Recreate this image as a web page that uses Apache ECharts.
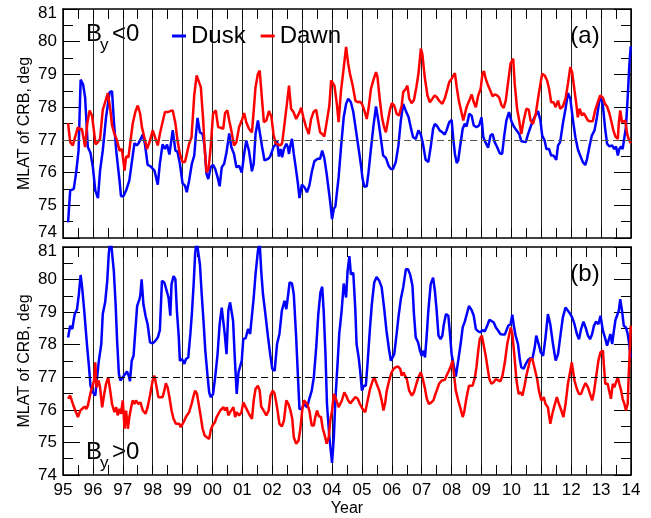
<!DOCTYPE html>
<html>
<head>
<meta charset="utf-8">
<script src="https://cdn.jsdelivr.net/npm/echarts@6/dist/echarts.min.js"></script>
<style>
  html, body { margin: 0; padding: 0; background: #ffffff; }
  #chart { width: 651px; height: 518px; }
</style>
</head>
<body>
<div id="chart"></div>
<script>
// Cusp region boundary latitude (MLAT of CRB) for IMF By<0 (panel a) and By>0 (panel b)

const duskAYears = [1995.17,1995.24,1995.36,1995.44,1995.52,1995.59,1995.67,1995.74,1995.83,1995.92,1996.0,1996.08,1996.17,1996.24,1996.33,1996.44,1996.56,1996.64,1996.7,1996.78,1996.89,1996.94,1997.02,1997.11,1997.22,1997.31,1997.39,1997.47,1997.53,1997.59,1997.67,1997.74,1997.83,1997.94,1998.06,1998.17,1998.24,1998.33,1998.41,1998.48,1998.56,1998.67,1998.76,1998.83,1998.91,1999.0,1999.08,1999.14,1999.22,1999.31,1999.39,1999.44,1999.5,1999.58,1999.67,1999.74,1999.8,1999.86,1999.94,2000.02,2000.09,2000.17,2000.24,2000.31,2000.39,2000.47,2000.56,2000.63,2000.72,2000.8,2000.89,2000.98,2001.06,2001.13,2001.22,2001.32,2001.38,2001.44,2001.52,2001.58,2001.66,2001.74,2001.86,2001.93,2002.0,2002.04,2002.11,2002.16,2002.22,2002.28,2002.33,2002.39,2002.47,2002.52,2002.56,2002.6,2002.66,2002.72,2002.8,2002.86,2002.91,2002.99,2003.08,2003.16,2003.24,2003.32,2003.41,2003.52,2003.6,2003.67,2003.74,2003.82,2003.89,2003.94,2004.0,2004.06,2004.11,2004.17,2004.22,2004.3,2004.39,2004.47,2004.54,2004.63,2004.71,2004.8,2004.89,2004.97,2005.02,2005.08,2005.16,2005.22,2005.3,2005.38,2005.47,2005.54,2005.63,2005.71,2005.8,2005.89,2005.97,2006.04,2006.13,2006.22,2006.3,2006.38,2006.43,2006.47,2006.56,2006.63,2006.71,2006.8,2006.89,2006.97,2007.04,2007.13,2007.22,2007.3,2007.38,2007.44,2007.52,2007.6,2007.69,2007.77,2007.83,2007.92,2008.0,2008.06,2008.11,2008.17,2008.22,2008.28,2008.37,2008.44,2008.5,2008.59,2008.67,2008.74,2008.83,2008.92,2009.0,2009.06,2009.13,2009.22,2009.3,2009.37,2009.44,2009.52,2009.61,2009.69,2009.76,2009.83,2009.92,2010.0,2010.08,2010.17,2010.26,2010.33,2010.39,2010.48,2010.56,2010.63,2010.72,2010.8,2010.89,2010.97,2011.03,2011.11,2011.17,2011.26,2011.33,2011.41,2011.5,2011.56,2011.63,2011.72,2011.81,2011.89,2011.97,2012.06,2012.14,2012.22,2012.3,2012.39,2012.47,2012.53,2012.61,2012.69,2012.78,2012.86,2012.94,2013.0,2013.06,2013.13,2013.2,2013.28,2013.37,2013.44,2013.5,2013.56,2013.61,2013.67,2013.72,2013.78,2013.83,2013.89,2013.94,2013.99];
const duskAValues = [74.48,75.45,75.5,76.0,76.67,78.84,78.7,78.3,76.78,76.6,76.16,75.45,75.22,76.06,76.67,77.69,78.46,78.49,77.6,76.67,75.76,75.28,75.28,75.45,75.76,76.37,76.9,76.83,76.9,76.86,77.16,76.88,76.24,76.18,76.06,75.63,76.27,76.86,76.72,76.86,76.55,77.3,76.67,76.64,76.27,75.67,75.6,75.4,75.76,76.27,76.52,77.08,77.67,77.23,77.18,76.78,75.96,75.8,76.16,76.24,76.11,75.86,75.58,76.16,76.27,76.62,77.2,76.78,76.57,76.16,76.21,76.0,76.57,76.98,76.67,76.04,76.27,77.18,77.59,77.57,76.78,76.37,76.42,76.49,76.67,76.78,76.86,76.98,76.49,76.72,76.47,76.72,76.88,76.78,76.57,76.8,77.03,76.57,76.06,75.65,75.22,75.63,75.55,75.4,75.6,76.01,76.35,76.42,76.42,76.67,76.45,75.96,75.45,75.09,74.58,74.89,74.96,74.99,75.86,76.78,77.69,78.1,78.26,78.15,77.85,77.29,76.72,76.21,75.81,75.57,75.58,76.01,76.72,77.39,78.02,77.64,77.06,76.52,76.45,76.21,76.11,76.11,76.32,76.83,77.59,78.1,78.1,77.88,77.69,77.39,77.08,77.03,77.29,77.16,76.88,76.39,76.32,76.78,77.34,77.49,77.41,77.29,77.23,77.16,77.29,77.54,77.61,76.98,76.57,76.29,76.37,76.78,77.34,77.49,77.41,77.8,77.74,77.44,77.39,77.44,77.69,77.08,76.93,76.76,77.13,77.18,76.93,76.78,76.59,76.57,77.13,77.59,77.85,77.57,77.41,77.29,77.18,76.96,77.0,76.93,77.18,77.37,77.59,77.74,77.88,77.59,77.13,76.98,76.72,76.72,76.52,76.52,76.39,76.83,76.93,77.49,77.95,78.43,78.26,77.59,77.08,76.72,76.52,76.32,76.23,76.42,76.8,77.13,77.29,77.69,78.2,78.29,78.05,77.39,76.88,76.8,76.83,76.72,76.8,76.52,76.72,76.8,76.72,77.08,77.39,78.31,79.22,79.86];

const dawnAYears = [1995.17,1995.24,1995.33,1995.41,1995.5,1995.56,1995.63,1995.69,1995.74,1995.81,1995.89,1995.97,1996.02,1996.09,1996.17,1996.24,1996.33,1996.41,1996.5,1996.58,1996.64,1996.72,1996.8,1996.89,1996.97,1997.06,1997.11,1997.19,1997.26,1997.33,1997.42,1997.5,1997.58,1997.64,1997.72,1997.81,1997.91,1998.0,1998.08,1998.17,1998.24,1998.33,1998.41,1998.5,1998.59,1998.67,1998.76,1998.83,1998.91,1999.0,1999.08,1999.14,1999.22,1999.3,1999.39,1999.47,1999.53,1999.61,1999.69,1999.74,1999.8,1999.87,1999.94,2000.02,2000.11,2000.19,2000.28,2000.36,2000.42,2000.5,2000.56,2000.63,2000.72,2000.8,2000.89,2000.98,2001.06,2001.13,2001.22,2001.32,2001.38,2001.44,2001.52,2001.58,2001.66,2001.72,2001.8,2001.89,2001.97,2002.04,2002.11,2002.19,2002.27,2002.33,2002.41,2002.49,2002.56,2002.63,2002.71,2002.8,2002.89,2002.97,2003.04,2003.13,2003.22,2003.3,2003.38,2003.47,2003.54,2003.6,2003.67,2003.74,2003.82,2003.91,2003.97,2004.02,2004.08,2004.16,2004.22,2004.3,2004.38,2004.47,2004.54,2004.6,2004.69,2004.78,2004.86,2004.93,2005.0,2005.08,2005.16,2005.22,2005.3,2005.38,2005.47,2005.52,2005.6,2005.67,2005.74,2005.8,2005.86,2005.93,2006.0,2006.08,2006.16,2006.24,2006.33,2006.38,2006.47,2006.52,2006.58,2006.66,2006.74,2006.82,2006.89,2006.97,2007.02,2007.1,2007.19,2007.27,2007.36,2007.43,2007.5,2007.58,2007.69,2007.78,2007.86,2007.92,2008.0,2008.06,2008.11,2008.17,2008.24,2008.31,2008.39,2008.44,2008.5,2008.59,2008.67,2008.74,2008.81,2008.89,2008.97,2009.03,2009.08,2009.14,2009.22,2009.3,2009.37,2009.44,2009.52,2009.59,2009.67,2009.74,2009.81,2009.89,2009.97,2010.06,2010.11,2010.19,2010.26,2010.33,2010.41,2010.5,2010.58,2010.64,2010.72,2010.81,2010.89,2010.97,2011.03,2011.11,2011.19,2011.26,2011.33,2011.41,2011.48,2011.56,2011.63,2011.72,2011.81,2011.89,2011.97,2012.03,2012.11,2012.17,2012.22,2012.28,2012.36,2012.42,2012.5,2012.56,2012.63,2012.72,2012.8,2012.89,2012.97,2013.06,2013.13,2013.2,2013.28,2013.36,2013.41,2013.48,2013.56,2013.59,2013.64,2013.7,2013.76,2013.81,2013.87,2013.92,2013.99];
const dawnAValues = [77.51,76.93,76.83,77.1,77.39,77.31,77.34,77.29,76.78,77.49,77.9,77.74,77.39,76.86,76.93,77.03,77.92,78.15,78.43,77.95,77.44,77.18,77.0,76.67,76.72,76.06,76.49,76.47,76.98,77.49,77.85,78.05,77.8,77.39,77.08,76.72,76.98,77.29,77.08,76.83,77.18,77.54,77.85,77.85,77.88,77.9,77.51,76.98,76.57,76.32,76.32,76.57,76.88,77.08,78.36,78.97,78.97,78.61,77.59,76.72,76.01,76.11,76.78,77.8,77.9,77.39,77.37,77.34,77.82,77.9,77.59,77.29,76.83,76.93,77.39,77.59,77.82,77.54,77.34,77.23,77.9,78.61,79.02,79.12,78.2,77.54,77.59,77.88,77.71,77.18,76.9,76.86,76.83,76.9,77.49,78.1,78.66,77.95,77.85,77.64,77.8,77.98,77.69,77.39,77.18,77.64,77.85,77.92,77.54,77.23,77.18,77.1,77.54,78.05,78.82,78.77,78.66,78.1,77.54,78.51,79.12,79.84,79.33,79.02,78.66,78.2,78.15,78.17,78.1,77.9,77.64,77.95,78.56,78.82,79.07,78.92,78.2,77.69,77.39,77.23,77.54,77.9,78.12,78.05,77.8,77.74,78.05,78.46,78.56,78.66,78.26,78.12,78.22,78.61,79.02,79.79,79.63,78.92,78.36,78.15,78.26,78.36,78.31,78.2,78.1,78.29,78.56,78.77,78.87,78.82,79.04,78.61,78.2,77.92,77.59,77.59,78.0,78.2,78.39,78.15,78.0,78.36,78.56,79.02,79.1,78.87,78.66,78.49,78.33,78.39,78.36,78.29,78.05,77.98,78.2,78.77,79.33,79.48,78.71,77.95,77.59,77.18,77.59,77.95,77.92,77.59,77.49,77.78,78.26,78.71,79.02,78.97,78.82,78.56,78.15,78.15,78.0,78.2,77.95,78.02,78.26,78.71,79.22,79.07,78.51,78.1,77.69,77.95,77.74,77.82,77.69,77.59,77.57,77.57,77.9,78.15,78.36,78.29,78.1,78.02,77.8,77.49,77.29,77.1,77.03,77.49,77.9,77.54,77.49,77.59,77.18,77.03,76.9];

const duskBYears = [1995.17,1995.24,1995.31,1995.39,1995.47,1995.53,1995.59,1995.64,1995.72,1995.8,1995.87,1995.92,1996.0,1996.08,1996.14,1996.2,1996.28,1996.33,1996.41,1996.48,1996.53,1996.59,1996.64,1996.7,1996.76,1996.81,1996.87,1996.92,1997.0,1997.08,1997.14,1997.2,1997.24,1997.3,1997.36,1997.42,1997.48,1997.56,1997.59,1997.63,1997.69,1997.76,1997.83,1997.91,1998.0,1998.09,1998.17,1998.24,1998.31,1998.39,1998.47,1998.53,1998.59,1998.63,1998.7,1998.76,1998.81,1998.87,1998.91,1998.98,1999.06,1999.11,1999.19,1999.26,1999.31,1999.37,1999.42,1999.47,1999.53,1999.58,1999.64,1999.7,1999.76,1999.83,1999.89,1999.94,2000.02,2000.09,2000.17,2000.24,2000.31,2000.36,2000.41,2000.47,2000.53,2000.59,2000.64,2000.69,2000.74,2000.81,2000.87,2000.92,2000.98,2001.03,2001.11,2001.19,2001.26,2001.32,2001.38,2001.44,2001.52,2001.58,2001.63,2001.69,2001.77,2001.86,2001.93,2002.0,2002.08,2002.16,2002.24,2002.32,2002.41,2002.47,2002.52,2002.58,2002.66,2002.72,2002.8,2002.86,2002.91,2002.99,2003.06,2003.11,2003.17,2003.24,2003.32,2003.39,2003.47,2003.54,2003.61,2003.67,2003.72,2003.78,2003.83,2003.91,2004.0,2004.06,2004.11,2004.19,2004.24,2004.32,2004.39,2004.47,2004.52,2004.58,2004.63,2004.71,2004.78,2004.82,2004.89,2004.94,2005.0,2005.06,2005.13,2005.19,2005.27,2005.33,2005.41,2005.49,2005.58,2005.66,2005.74,2005.82,2005.91,2005.97,2006.02,2006.08,2006.16,2006.22,2006.3,2006.38,2006.47,2006.54,2006.61,2006.69,2006.74,2006.8,2006.88,2006.94,2007.0,2007.06,2007.11,2007.17,2007.22,2007.3,2007.38,2007.44,2007.5,2007.56,2007.63,2007.69,2007.74,2007.81,2007.89,2007.94,2008.0,2008.08,2008.14,2008.22,2008.3,2008.37,2008.44,2008.5,2008.58,2008.67,2008.74,2008.81,2008.89,2008.97,2009.03,2009.11,2009.19,2009.26,2009.33,2009.41,2009.48,2009.56,2009.63,2009.7,2009.78,2009.83,2009.89,2009.97,2010.03,2010.08,2010.14,2010.22,2010.28,2010.33,2010.41,2010.48,2010.56,2010.63,2010.7,2010.78,2010.83,2010.91,2010.98,2011.06,2011.14,2011.22,2011.3,2011.39,2011.48,2011.56,2011.63,2011.72,2011.81,2011.89,2011.97,2012.03,2012.11,2012.19,2012.26,2012.33,2012.41,2012.48,2012.56,2012.63,2012.7,2012.76,2012.83,2012.91,2012.98,2013.06,2013.13,2013.2,2013.26,2013.31,2013.37,2013.42,2013.48,2013.53,2013.59,2013.64,2013.7,2013.76,2013.83,2013.89,2013.94,2013.99];
const duskBValues = [78.22,78.58,78.48,78.94,79.09,79.55,80.14,79.76,78.94,78.02,77.31,76.74,76.54,76.44,77.0,77.51,78.02,78.94,79.3,79.96,80.78,81.3,81.3,80.27,79.24,78.12,77.1,76.9,77.0,77.1,77.18,77.05,76.88,77.51,77.66,78.43,79.19,79.4,79.55,80.01,79.24,78.89,78.63,78.07,78.04,78.12,78.22,78.45,79.96,79.91,79.65,79.45,78.89,79.86,80.11,80.01,79.04,78.28,77.51,77.56,77.41,77.56,77.61,78.33,78.94,79.86,80.78,81.2,81.2,80.47,79.55,78.73,77.82,77.1,76.54,76.39,76.49,77.0,77.71,78.63,79.14,78.73,78.33,77.71,79.04,79.3,79.35,78.73,77.71,76.49,77.15,77.2,77.51,78.17,78.2,78.48,78.33,78.31,79.45,80.16,80.88,81.1,80.27,79.55,78.94,78.22,77.71,77.26,77.2,78.02,78.33,79.04,79.35,79.09,79.45,79.91,79.88,79.55,78.22,77.0,76.03,76.03,76.18,76.23,76.08,76.34,76.59,77.0,77.92,78.94,79.6,79.78,79.04,77.71,76.18,75.16,74.37,75.16,76.29,77.51,78.33,79.04,79.88,79.45,80.27,80.72,80.16,80.21,79.04,78.02,77.61,77.2,76.59,76.74,76.74,77.46,78.53,79.24,79.91,80.08,79.96,79.76,79.14,78.43,77.82,77.51,77.46,77.71,78.33,78.84,79.4,79.76,80.32,80.32,80.16,79.81,78.94,78.22,78.07,77.82,77.66,77.82,77.61,78.33,79.04,79.86,80.06,79.65,79.04,78.28,78.17,78.28,78.63,78.94,78.89,78.38,77.71,77.31,77.02,77.51,78.02,78.53,78.71,78.76,79.19,79.06,78.89,78.48,78.41,78.38,78.45,78.41,78.58,78.76,78.73,78.68,78.53,78.43,78.33,78.31,78.31,78.28,78.58,78.63,78.92,78.58,78.28,78.02,77.56,77.31,77.26,77.41,77.53,77.59,77.56,77.92,78.28,78.02,77.77,77.66,78.22,78.94,78.63,78.02,77.51,77.71,78.22,78.84,79.14,79.04,78.94,78.84,78.63,78.33,78.17,78.48,78.71,78.53,78.28,78.17,78.33,78.58,78.71,78.63,78.89,78.43,78.22,77.97,78.02,78.33,78.02,78.38,78.76,78.71,79.04,79.4,79.04,78.58,78.53,78.33,78.02,77.61];

const dawnBYears = [1995.17,1995.24,1995.33,1995.41,1995.5,1995.58,1995.64,1995.72,1995.78,1995.83,1995.89,1995.94,1996.0,1996.04,1996.08,1996.12,1996.19,1996.24,1996.31,1996.37,1996.44,1996.51,1996.58,1996.64,1996.72,1996.78,1996.83,1996.89,1996.94,1997.0,1997.06,1997.11,1997.17,1997.22,1997.28,1997.33,1997.39,1997.44,1997.52,1997.59,1997.67,1997.76,1997.83,1997.91,1998.0,1998.06,1998.11,1998.19,1998.26,1998.33,1998.39,1998.44,1998.5,1998.56,1998.63,1998.7,1998.78,1998.83,1998.89,1998.94,1999.0,1999.06,1999.11,1999.17,1999.22,1999.3,1999.37,1999.42,1999.48,1999.53,1999.61,1999.67,1999.74,1999.81,1999.89,1999.94,2000.0,2000.08,2000.14,2000.2,2000.26,2000.31,2000.37,2000.42,2000.48,2000.53,2000.59,2000.64,2000.7,2000.76,2000.81,2000.89,2000.97,2001.03,2001.09,2001.14,2001.22,2001.32,2001.38,2001.44,2001.52,2001.58,2001.63,2001.71,2001.8,2001.88,2001.94,2002.02,2002.08,2002.16,2002.24,2002.32,2002.39,2002.47,2002.54,2002.61,2002.67,2002.72,2002.8,2002.88,2002.94,2003.0,2003.06,2003.11,2003.17,2003.24,2003.32,2003.39,2003.44,2003.5,2003.56,2003.63,2003.69,2003.74,2003.82,2003.89,2003.94,2004.0,2004.06,2004.11,2004.17,2004.22,2004.28,2004.33,2004.41,2004.47,2004.54,2004.61,2004.69,2004.78,2004.86,2004.93,2005.02,2005.11,2005.19,2005.27,2005.36,2005.41,2005.49,2005.58,2005.66,2005.72,2005.78,2005.83,2005.91,2005.99,2006.06,2006.13,2006.21,2006.28,2006.33,2006.39,2006.44,2006.5,2006.58,2006.67,2006.74,2006.82,2006.89,2006.97,2007.02,2007.1,2007.17,2007.24,2007.32,2007.39,2007.44,2007.52,2007.58,2007.67,2007.77,2007.83,2007.91,2007.98,2008.03,2008.09,2008.14,2008.22,2008.3,2008.37,2008.42,2008.5,2008.58,2008.64,2008.7,2008.78,2008.83,2008.89,2008.94,2009.01,2009.06,2009.13,2009.2,2009.26,2009.33,2009.41,2009.48,2009.56,2009.63,2009.7,2009.78,2009.86,2009.92,2009.98,2010.03,2010.11,2010.17,2010.24,2010.31,2010.37,2010.44,2010.5,2010.58,2010.63,2010.7,2010.78,2010.86,2010.92,2011.0,2011.08,2011.14,2011.22,2011.3,2011.37,2011.44,2011.52,2011.59,2011.67,2011.74,2011.81,2011.89,2011.97,2012.02,2012.06,2012.11,2012.19,2012.26,2012.33,2012.41,2012.48,2012.56,2012.63,2012.7,2012.76,2012.83,2012.91,2012.98,2013.06,2013.09,2013.14,2013.22,2013.28,2013.33,2013.39,2013.44,2013.5,2013.56,2013.61,2013.67,2013.72,2013.78,2013.83,2013.89,2013.92,2013.97,2013.99];
const dawnBValues = [76.34,76.44,76.18,75.98,75.78,75.98,76.03,76.1,76.03,76.13,76.39,76.59,76.54,76.9,77.46,76.69,76.9,76.69,76.08,76.44,76.8,77.0,76.59,76.18,75.93,76.08,75.83,76.03,75.88,76.29,75.42,75.98,75.42,75.78,76.08,76.29,76.18,76.29,76.18,76.23,75.98,75.88,76.08,76.44,76.9,77.05,76.8,76.39,76.39,76.39,76.59,76.82,76.69,76.39,75.98,75.72,75.57,75.52,75.57,75.47,75.42,75.67,75.78,75.72,75.93,76.18,76.44,76.59,76.49,76.23,75.78,75.42,75.21,75.16,75.11,75.37,75.52,75.62,75.78,75.88,75.98,75.93,76.08,75.98,76.08,75.83,75.93,75.88,76.08,75.78,75.93,75.83,75.93,76.23,76.18,76.03,75.88,75.72,76.29,76.64,76.74,76.59,76.1,75.98,75.83,75.98,76.44,76.59,76.49,76.08,75.57,75.49,75.67,76.29,76.18,75.98,75.72,75.16,74.96,75.06,75.42,75.98,76.29,76.29,76.18,75.98,75.52,75.52,75.78,75.98,75.8,75.78,75.42,75.27,74.96,75.16,75.67,75.98,76.49,76.39,76.23,76.08,76.13,76.29,76.54,76.44,76.29,76.2,76.29,76.39,76.34,76.18,76.03,75.93,76.29,76.64,76.9,77.0,76.8,76.59,76.29,75.98,76.23,76.59,76.9,77.15,77.26,77.31,77.33,77.26,77.05,77.15,77.05,76.95,76.59,76.44,76.54,76.8,77.0,77.15,77.0,76.69,76.34,76.18,76.23,76.29,76.44,76.64,76.8,76.9,76.92,77.05,77.2,77.36,77.51,77.0,76.59,76.29,76.03,75.78,75.93,76.39,76.74,76.69,76.74,77.0,77.31,77.82,78.17,78.28,78.22,77.71,77.31,76.95,76.8,76.85,76.95,76.9,76.88,77.05,77.46,78.02,78.28,78.53,78.33,77.56,76.9,76.49,76.54,76.44,76.74,77.05,77.36,77.56,77.56,77.26,76.95,76.59,76.29,76.39,76.18,76.08,75.57,75.88,76.13,76.39,76.18,75.98,75.78,76.18,76.8,77.2,77.46,77.2,76.9,76.64,76.49,76.49,76.69,76.82,76.69,76.49,76.29,76.54,77.0,77.51,77.77,77.82,77.41,76.8,76.8,76.54,76.34,76.8,76.69,76.74,77.0,76.8,76.59,76.34,76.18,75.98,76.18,77.0,78.02,78.58];

const xTickLabels = ['95','96','97','98','99','00','01','02','03','04','05','06','07','08','09','10','11','12','13','14'];
const yearMin = 1995, yearMax = 2014;
const latMin = 74, latMax = 81;
const refLevel = 77;

const FONT = '"Liberation Sans", Arial, Helvetica, sans-serif';
const DUSK = '#0000ff';
const DAWN = '#ff0000';

const pairs = (xs, ys) => xs.map((x, i) => [x, ys[i]]);

const GRID_LEFT = 63, GRID_W = 568, PANEL_H = 229;
const grids = [
  { left: GRID_LEFT, top: 9, width: GRID_W, height: PANEL_H },
  { left: GRID_LEFT, top: 247, width: GRID_W, height: PANEL_H }
];

function xAxisDef(gridIndex, position, withLabels) {
  return {
    type: 'value', gridIndex, position,
    min: yearMin, max: yearMax, interval: 1,
    axisLine: { show: true, onZero: false, lineStyle: { color: '#000', width: 1.5 } },
    axisTick: { show: true, inside: true, length: 10, lineStyle: { color: '#000', width: 1 } },
    minorTick: { show: true, splitNumber: 2, length: 10, lineStyle: { color: '#000', width: 1 } },
    splitLine: { show: position === 'bottom', lineStyle: { color: '#222', width: 1 } },
    axisLabel: {
      show: withLabels, margin: 7, color: '#000', fontSize: 17, fontFamily: FONT,
      showMinLabel: true, showMaxLabel: true,
      formatter: v => xTickLabels[Math.round(v - yearMin)]
    },
    name: withLabels ? 'Year' : '',
    nameLocation: 'middle', nameGap: 26, nameMoveOverlap: false,
    nameTextStyle: { color: '#000', fontSize: 16, fontFamily: FONT }
  };
}

function yAxisDef(gridIndex, position, withLabels, isTop) {
  const base = { fontSize: 17, fontFamily: FONT, color: '#000' };
  return {
    type: 'value', gridIndex, position,
    min: latMin, max: latMax, interval: 1,
    axisLine: { show: true, onZero: false, lineStyle: { color: '#000', width: 1.5 } },
    axisTick: { show: true, inside: true, length: 17, lineStyle: { color: '#000', width: 1 } },
    minorTick: { show: true, splitNumber: 2, length: 10, lineStyle: { color: '#000', width: 1 } },
    splitLine: { show: false },
    axisLabel: {
      show: withLabels, margin: 6, color: '#000', fontSize: 17, fontFamily: FONT,
      showMinLabel: true, showMaxLabel: true,
      formatter: v => {
        if (v === latMax) return '{hi|' + v + '}';
        if (v === latMin && isTop) return '{lo|' + v + '}';
        return String(v);
      },
      rich: {
        hi: Object.assign({ padding: [8, 0, 0, 0] }, base),
        lo: Object.assign({ padding: [0, 0, 12, 0] }, base)
      }
    },
    name: withLabels ? 'MLAT of CRB, deg' : '',
    nameLocation: 'middle', nameRotate: 90, nameGap: 30, nameMoveOverlap: false,
    nameTextStyle: { color: '#000', fontSize: 16, fontFamily: FONT }
  };
}

function refLine(color) {
  return {
    silent: true, symbol: ['none', 'none'], animation: false,
    label: { show: false },
    lineStyle: { color, width: 1, type: [7, 4] },
    data: [{ yAxis: refLevel }]
  };
}

function lineSeries(name, color, xIdx, yIdx, xs, ys, extra) {
  return Object.assign({
    name, type: 'line', xAxisIndex: xIdx, yAxisIndex: yIdx,
    data: pairs(xs, ys),
    showSymbol: false, symbol: 'none', clip: true,
    lineStyle: { color, width: 2.5 },
    itemStyle: { color },
    emphasis: { disabled: true }
  }, extra || {});
}

const chart = echarts.init(document.getElementById('chart'), null, { renderer: 'canvas' });

const txt = (text, x, y, size, align) => ({
  type: 'text', silent: true,
  style: { text, x, y, fill: '#000', fontSize: size, fontFamily: FONT, align: align || 'left', verticalAlign: 'middle' }
});

chart.setOption({
  animation: false,
  backgroundColor: '#ffffff',
  grid: grids,
  legend: {
    data: ['Dusk', 'Dawn'],
    left: 172, top: 24, padding: 0,
    icon: 'rect', itemWidth: 14, itemHeight: 3, itemGap: 15,
    selectedMode: false,
    textStyle: { color: '#000', fontSize: 24, fontFamily: FONT }
  },
  xAxis: [
    xAxisDef(0, 'bottom', false),
    xAxisDef(0, 'top', false),
    xAxisDef(1, 'bottom', true),
    xAxisDef(1, 'top', false)
  ],
  yAxis: [
    yAxisDef(0, 'left', true, true),
    yAxisDef(0, 'right', false, true),
    yAxisDef(1, 'left', true, false),
    yAxisDef(1, 'right', false, false)
  ],
  series: [
    lineSeries('Dusk', DUSK, 0, 0, duskAYears, duskAValues, { markLine: refLine('#555') }),
    lineSeries('Dawn', DAWN, 0, 0, dawnAYears, dawnAValues),
    lineSeries('Dusk', DUSK, 2, 2, duskBYears, duskBValues, { markLine: refLine('#000') }),
    lineSeries('Dawn', DAWN, 2, 2, dawnBYears, dawnBValues)
  ],
  graphic: [
    txt('B', 86, 34, 24),
    txt('y', 100, 45, 17),
    txt('<0', 112, 34, 24),
    txt('(a)', 585, 36, 24, 'center'),
    txt('B', 86, 452, 24),
    txt('y', 100, 463, 17),
    txt('>0', 112, 452, 24),
    txt('(b)', 585, 274, 24, 'center')
  ]
});
</script>
</body>
</html>
